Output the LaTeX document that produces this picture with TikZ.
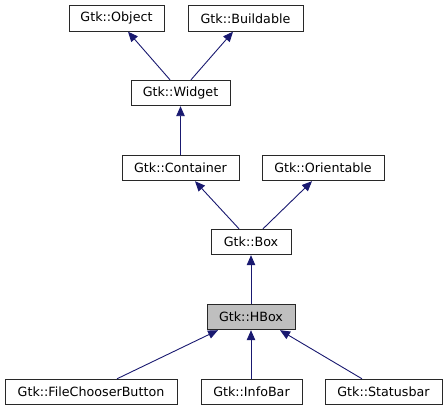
\documentclass[tikz,border=0pt]{standalone}
\usepackage{fontspec}
\setmainfont{DejaVu Sans}
\usetikzlibrary{arrows.meta}
\definecolor{edgeblue}{RGB}{25,25,112}
\definecolor{hboxfill}{RGB}{191,191,191}
\definecolor{boxline}{RGB}{40,40,40}
\begin{document}
\begin{tikzpicture}[x=1pt,y=-1pt,
  cls/.style={draw=boxline,line width=0.9pt,fill=white,minimum height=25.5pt,inner sep=0pt,
    font=\fontsize{12.7}{15}\selectfont},
  inh/.style={draw=edgeblue,line width=0.9pt,-{Triangle[length=10pt,width=8.5pt]},fill=none}]
\useasboundingbox (0,0) rectangle (446,411);
\node[cls,minimum width=95pt]  (object)    at (116.5,18.5) {Gtk::Object};
\node[cls,minimum width=115pt] (buildable) at (245.5,18.5) {Gtk::Buildable};
\node[cls,minimum width=99pt]  (widget)    at (180.5,93)   {Gtk::Widget};
\node[cls,minimum width=117pt] (container) at (180.5,168)  {Gtk::Container};
\node[cls,minimum width=122pt] (orient)    at (323,168)    {Gtk::Orientable};
\node[cls,minimum width=80pt]  (box)       at (251,242)    {Gtk::Box};
\node[cls,minimum width=88pt,fill=hboxfill] (hbox) at (251,317) {Gtk::HBox};
\node[cls,minimum width=172pt] (fcb)       at (91,392)     {Gtk::FileChooserButton};
\node[cls,minimum width=101pt] (infobar)   at (251.5,392)  {Gtk::InfoBar};
\node[cls,minimum width=117pt] (statusbar) at (383.5,392)  {Gtk::Statusbar};
\draw[inh] ([xshift=-10.5pt]widget.north) -- ([xshift=11.5pt]object.south);
\draw[inh] ([xshift=10.5pt]widget.north) -- ([xshift=-12.5pt]buildable.south);
\draw[inh] (container.north) -- (widget.south);
\draw[inh] ([xshift=-12pt]box.north) -- ([xshift=14.5pt]container.south);
\draw[inh] ([xshift=12pt]box.north) -- ([xshift=-11pt]orient.south);
\draw[inh] (hbox.north) -- (box.south);
\draw[inh] ([xshift=26pt]fcb.north) -- ([xshift=-33pt]hbox.south);
\draw[inh] (infobar.north -| hbox.south) -- (hbox.south);
\draw[inh] ([xshift=-21.5pt]statusbar.north) -- ([xshift=29pt]hbox.south);
\end{tikzpicture}
\end{document}
